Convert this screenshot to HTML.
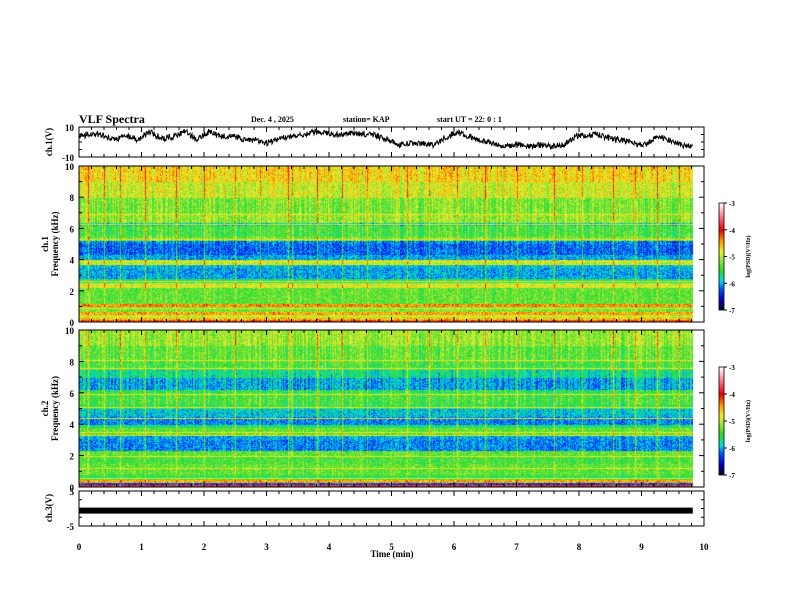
<!DOCTYPE html>
<html><head><meta charset="utf-8">
<style>
body{margin:0;background:#fff;width:792px;height:612px;overflow:hidden;position:relative;font-family:"Liberation Serif",serif}
svg,canvas{position:absolute;left:0;top:0}
text{font-family:"Liberation Serif",serif;font-weight:bold;fill:#000}
</style></head>
<body>
<canvas id="spec" width="792" height="612"></canvas>
<svg id="ov" width="792" height="612"></svg>
<script>
// ---- data ----
const waveCh1 = [3.5,5.8,4.7,1.3,4.7,1.3,6.9,2.4,3.5,6.9,1.3,6.9,3.5,4.7,1.3,1.3,-0.9,2.4,3.5,4.7,6.9,5.8,4.7,5.8,5.8,4.7,2.4,-2,-0.9,-0.9,-2,2.4,6.9,3.5,1.3,-0.9,-3.1,-2,-3.1,-2,-3.1,-2,3.5,4.7,4.7,2.4,1.3,-0.9,-2,3.5,1.3,-2,-3.1];
const ch3Level = -0.6;
const tEnd = 9.82;
const ch1FreqBands = [0,0.15,0.3,0.5,0.7,1.0,1.2,2.0,2.2,2.5,2.8,3.5,3.7,4.0,4.3,5.0,5.2,5.5,6.2,6.4,7.0,8.0,9.0,10];
const ch1FreqLevel = [-4.2,-4.6,-5.0,-4.5,-5.2,-4.4,-5.3,-5.3,-4.9,-5.6,-6.0,-5.9,-5.0,-6.0,-6.2,-6.1,-5.2,-5.4,-5.8,-5.1,-5.2,-4.9,-4.7,-4.5];
const ch2FreqBands = [0,0.15,0.3,0.5,0.8,1.5,2.0,2.3,3.0,3.3,3.8,4.0,4.5,5.0,5.3,6.0,6.2,7.0,7.5,8.0,9.0,10];
const ch2FreqLevel = [-4.0,-6.3,-4.5,-5.5,-5.3,-5.4,-5.3,-6.1,-6.0,-5.3,-5.6,-6.1,-5.9,-5.5,-5.4,-5.5,-6.0,-5.7,-5.4,-5.3,-5.1,-5.0];
const eventTimes = [0.15,0.4,0.65,1.05,1.55,2.0,2.5,2.9,3.35,3.4,3.8,4.2,4.6,5.25,5.6,6.05,6.5,7.0,7.6,8.05,8.55,8.9,9.25,9.6];
const lineFreqs1 = [0.4,0.6,0.9,1.1,2.3,2.6,3.7,3.9,5.3,6.3,6.9];
const lineFreqs2 = [0.35,0.6,1.2,2.0,3.3,3.5,4.4,5.1,5.9,7.6,8.1];
const xTicks = [0,1,2,3,4,5,6,7,8,9,10];
const freqTicks = [0,2,4,6,8,10];
const cbTicks = [-3,-4,-5,-6,-7];

const X0=79,X1=704;
const xs=t=>X0+(X1-X0)*t/10;
const P1={t:127,b:157}, S1={t:166,b:322}, S2={t:330,b:487}, P4={t:491,b:526};

function cmap(v){
  const stops=[[-7,0,0,0],[-6.6,0,0,200],[-6.2,0,80,255],[-5.9,0,220,230],[-5.5,40,220,40],[-5.1,150,230,60],[-4.8,240,240,40],[-4.4,255,150,0],[-4.0,230,0,0],[-3.5,255,120,140],[-3,255,255,255]];
  if(v<=-7)return stops[0].slice(1);if(v>=-3)return [255,255,255];
  for(let i=0;i<stops.length-1;i++){const a=stops[i],b=stops[i+1];if(v>=a[0]&&v<=b[0]){const k=(v-a[0])/(b[0]-a[0]);return [0,1,2].map(j=>Math.round(a[j+1]+(b[j+1]-a[j+1])*k));}}
}
function interp(bands,lev,f){for(let i=0;i<bands.length-1;i++){if(f<=bands[i+1]){return lev[i];}}return lev[lev.length-1];}
function h(a,b){let x=Math.sin(a*127.1+b*311.7)*43758.5453;return x-Math.floor(x);}

const cv=document.getElementById('spec'),ctx=cv.getContext('2d');
function drawSpec(P,bands,lev,lines,seed){
  const x1=Math.round(xs(tEnd));
  const W=x1-X0,H=P.b-P.t;
  const img=ctx.createImageData(W,H);
  const evPx=eventTimes.map(t=>Math.round(xs(t))-X0);
  const linePx=lines.map(f=>Math.round(H-H*f/10));
  for(let x=0;x<W;x++){
    const col=(h(x,seed)-0.5)*0.5;
    let ev=evPx.some(e=>Math.abs(e-x)<1)?0.7:0;
    for(let y=0;y<H;y++){
      const f=10*(H-y)/H;
      let v=interp(bands,lev,f)+(h(x*3+seed,y)-0.5)*0.6+col*(f>5?1:0.5)+ev*(f>2?1:0.4);
      if(linePx.includes(y))v=Math.max(v,-4.8+(h(x,y)-0.5)*0.4);
      const c=cmap(v),i=(y*W+x)*4;
      img.data[i]=c[0];img.data[i+1]=c[1];img.data[i+2]=c[2];img.data[i+3]=255;
    }
  }
  ctx.putImageData(img,X0,P.t);
}
drawSpec(S1,ch1FreqBands,ch1FreqLevel,lineFreqs1,1);
drawSpec(S2,ch2FreqBands,ch2FreqLevel,lineFreqs2,7);
function cbar(top,bot){for(let y=top;y<bot;y++){const v=-3-4*(y-top)/(bot-top);const c=cmap(v);ctx.fillStyle=`rgb(${c})`;ctx.fillRect(719,y,5,1);}}
cbar(203,310);cbar(367,475);

const svg=document.getElementById('ov');const NS='http://www.w3.org/2000/svg';
function el(tag,attrs,parent){const e=document.createElementNS(NS,tag);for(const k in attrs)e.setAttribute(k,attrs[k]);(parent||svg).appendChild(e);return e;}
function txt(s,x,y,size,anchor,rot){const e=el('text',{x:x,y:y,'font-size':size,'text-anchor':anchor||'start'});if(rot)e.setAttribute('transform',`rotate(-90 ${x} ${y})`);e.textContent=s;return e;}

const tl=txt('VLF Spectra',79,123,12);


const hd=[['Dec. 4  , 2025',251],['station= KAP',343],['start  UT =   22: 0  : 1',437]];
hd.forEach(([s,x])=>{const e=txt(s,x,122,8);

});

[[P1,'ch1-wave-panel'],[S1,'ch1-spec-panel'],[S2,'ch2-spec-panel'],[P4,'ch3-wave-panel']].forEach(([P,n])=>{
  const r=el('rect',{x:X0,y:P.t,width:X1-X0,height:P.b-P.t,fill:'none',stroke:'#000','stroke-width':1});
  
  
  for(let i=0;i<=50;i++){const t=i*0.2,x=xs(t),L=(i%5==0)?5:3;
    el('line',{x1:x,y1:P.t,x2:x,y2:P.t+L,stroke:'#000'});
    el('line',{x1:x,y1:P.b,x2:x,y2:P.b-L,stroke:'#000'});}
});
// ch1 wave: interpolate data, add high-frequency texture
let d='';const xEnd=xs(tEnd);let k=0;
for(let x=X0;x<=xEnd;x+=0.5){
  const p=(x-X0)/(xEnd-X0)*(waveCh1.length-1);const i=Math.min(Math.floor(p),waveCh1.length-2);const fr=p-i;
  const v=waveCh1[i]+(waveCh1[i+1]-waveCh1[i])*fr;
  const y=142-v*1.5+(h(k,3)-0.5)*6;k++;
  d+=(k>1?'L':'M')+x.toFixed(1)+','+y.toFixed(1);
}
const wl=el('path',{d:d,fill:'none',stroke:'#000','stroke-width':1});


const y3=P4.t+(P4.b-P4.t)*(5-ch3Level)/10;
const b3=el('rect',{x:X0,y:y3-3,width:xs(tEnd)-X0,height:6,fill:'#000'});



function yt(P,vals,mn,mx,minorStep){
  const Y=v=>P.b-(P.b-P.t)*(v-mn)/(mx-mn);
  for(let v=mn;v<=mx+1e-9;v+=minorStep){const y=Y(v);const maj=vals.includes(Math.round(v*100)/100);
    el('line',{x1:X0,y1:y,x2:X0+(maj?5:3),y2:y,stroke:'#000'});el('line',{x1:X1,y1:y,x2:X1-(maj?5:3),y2:y,stroke:'#000'});}
  vals.forEach(v=>{const e=txt(String(v),X0-5,Y(v)+4,9,'end');
  
  });
}
yt(P1,[10,-10],-10,10,5);
yt(S1,freqTicks,0,10,1);
yt(S2,freqTicks,0,10,1);
yt(P4,[5,-5],-5,5,2.5);
xTicks.forEach(t=>{const e=txt(String(t),xs(t),550,9,'middle');

});
const xl=txt('Time  (min)',392,557,9,'middle');


[['ch.1(V)',52,142],['ch.3(V)',52,508]].forEach(([s,x,y])=>{const e=txt(s,x,y,9,'middle',true);

});
[['ch.1',S1],['ch.2',S2]].forEach(([c,P])=>{const cy=(P.t+P.b)/2;
const a=txt(c,48,cy,9,'middle',true);


const b=txt('Frequency  (kHz)',58,cy,9,'middle',true);

});
[[203,310],[367,475]].forEach(([t,b])=>{
  const r=el('rect',{x:719,y:t,width:5,height:b-t,fill:'none',stroke:'#000','stroke-width':0.8});
  
  
  cbTicks.forEach(v=>{const y=t+(b-t)*(-3-v)/4;el('line',{x1:724,y1:y,x2:727,y2:y,stroke:'#000'});
    const e=txt(String(v),729,y+3,7);
    
    });
  const e=txt('log(PSD)(V²/Hz)',750,(t+b)/2,6,'middle',true);
  
  
});
</script>
</body></html>
